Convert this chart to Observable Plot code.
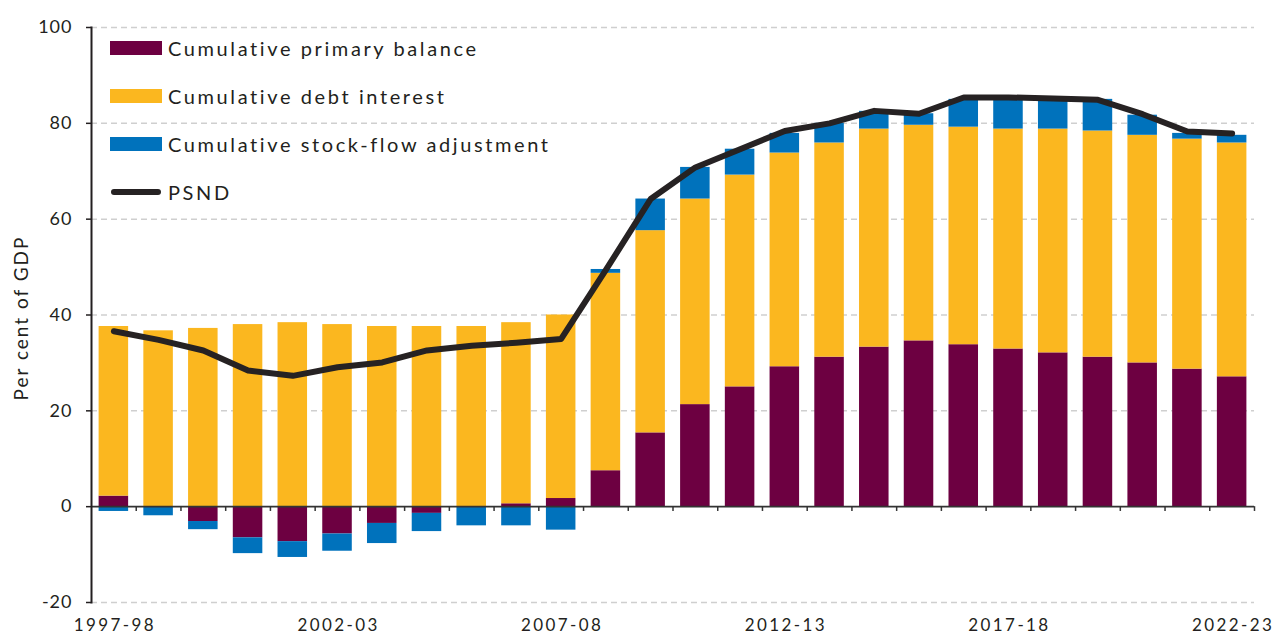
<!DOCTYPE html>
<html><head><meta charset="utf-8">
<script src="https://cdn.jsdelivr.net/npm/d3@7"></script>
<script src="https://cdn.jsdelivr.net/npm/@observablehq/plot@0.6"></script>
<style>
body{margin:0;background:#fff;font-family:Lato, sans-serif;}
#wrap{position:relative;width:1274px;height:640px;}
#legend{position:absolute;left:110px;top:24px;}
.row{display:flex;align-items:center;height:48px;font-size:20px;letter-spacing:2.6px;color:#231f20;white-space:nowrap}
.sw{width:52px;height:14px;margin-right:6px}
.ln{width:50px;height:6px;border-radius:3px;margin:0 7px 0 1px}
</style></head><body>
<div id="wrap"><div id="chart"></div><div id="legend"></div></div>
<script>
const years = ["1997-98","1998-99","1999-00","2000-01","2001-02","2002-03","2003-04","2004-05","2005-06","2006-07","2007-08","2008-09","2009-10","2010-11","2011-12","2012-13","2013-14","2014-15","2015-16","2016-17","2017-18","2018-19","2019-20","2020-21","2021-22","2022-23"];
const tickLabels = ["1997-98","2002-03","2007-08","2012-13","2017-18","2022-23"];
const seriesNames = ["Cumulative primary balance","Cumulative debt interest","Cumulative stock-flow adjustment"];
const seriesColors = ["#6d0041","#fbb71f","#0072bc"];
const primaryBalance = [2.2,0,-3.1,-6.5,-7.3,-5.7,-3.5,-1.4,0,0.6,1.7,7.5,15.4,21.3,25.0,29.2,31.2,33.3,34.6,33.8,32.9,32.1,31.2,30.0,28.7,27.1];
const debtInterest = [35.4,36.7,37.2,38.0,38.4,38.0,37.6,37.6,37.6,37.8,38.3,41.2,42.2,42.9,44.2,44.6,44.7,45.5,45.0,45.4,45.9,46.7,47.2,47.5,48.0,48.8];
const stockFlow = [-1.0,-1.9,-1.7,-3.3,-3.3,-3.6,-4.2,-3.8,-4.0,-4.0,-4.9,0.8,6.6,6.6,5.4,4.1,4.1,3.7,2.4,5.8,6.2,6.0,6.6,4.2,1.2,1.6];
const psnd = [36.6,34.8,32.6,28.4,27.3,29.1,30.1,32.6,33.6,34.2,35.0,49.4,64.2,70.8,74.6,78.4,80.0,82.6,82.0,85.4,85.4,85.2,84.9,81.9,78.3,77.9];
const yTicks = [-20,0,20,40,60,80,100];
const yTitle = "Per cent of GDP";

const seriesValues = [primaryBalance, debtInterest, stockFlow];
const barData = [];
seriesNames.forEach((s, k) => years.forEach((y, i) => barData.push({year: y, series: s, value: seriesValues[k][i]})));
const lineData = years.map((y, i) => ({year: y, value: psnd[i]}));

const W = 1274, H = 640, mL = 91, mR = 20, mT = 27, mB = 38;
const pIn = 0.34, pOut = 0.17;
const step = (W - mL - mR) / (years.length - pIn + 2 * pOut);
const ink = "#231f20";

const chart = Plot.plot({
  width: W, height: H,
  marginLeft: mL, marginRight: mR, marginTop: mT, marginBottom: mB,
  style: {fontFamily: "Lato, sans-serif", fontSize: "18px", color: ink, background: "#fff"},
  x: {type: "band", domain: years, paddingInner: pIn, paddingOuter: pOut, round: false, axis: null},
  y: {domain: [-20, 100], axis: null},
  color: {domain: seriesNames, range: seriesColors},
  marks: [
    Plot.gridY(yTicks.filter(d => d !== 0), {stroke: "#cfcfcf", strokeOpacity: 1, strokeWidth: 1.5, strokeDasharray: "6,4"}),
    Plot.barY(barData, {x: "year", y: "value", fill: "series"}),
    Plot.ruleY([0], {stroke: "#333", strokeWidth: 1.6}),
    Plot.ruleX(years, {x: d => d, y1: 0, y2: -1, dx: step / 2, stroke: "#333", strokeWidth: 1.5}),
    Plot.frame({anchor: "left", stroke: ink, strokeWidth: 2}),
    Plot.axisY({ticks: yTicks, tickSize: 5, tickPadding: 14, fontSize: 18, label: null, stroke: ink, strokeWidth: 1.5, tickFormat: d => String(d)}),
    Plot.lineY(lineData, {x: "year", y: "value", stroke: "#262223", strokeWidth: 6, strokeLinecap: "round", strokeLinejoin: "round"}),
    Plot.text(tickLabels, {x: d => d, frameAnchor: "bottom", dy: 28, dx: 1, fontSize: 17, fill: ink}),
    Plot.text([yTitle], {frameAnchor: "left", textAnchor: "middle", dx: -70, dy: 3, rotate: -90, fontSize: 19, fill: ink})
  ]
});
document.getElementById("chart").appendChild(chart);

const svg = d3.select(chart);
svg.selectAll("text").filter(function() { return tickLabels.includes(this.textContent); }).attr("letter-spacing", "2.4px");
svg.selectAll("text").filter(function() { return this.textContent === yTitle; }).attr("letter-spacing", "2px");
svg.selectAll('[aria-label="y-axis tick label"] text').attr("letter-spacing", "1px");

const legend = document.getElementById("legend");
seriesNames.forEach((s, k) => {
  const row = document.createElement("div"); row.className = "row";
  row.innerHTML = `<div class="sw" style="background:${seriesColors[k]}"></div><span>${s}</span>`;
  legend.appendChild(row);
});
const lrow = document.createElement("div"); lrow.className = "row";
lrow.innerHTML = `<div class="ln" style="background:#262223"></div><span>PSND</span>`;
legend.appendChild(lrow);
</script>
</body></html>
